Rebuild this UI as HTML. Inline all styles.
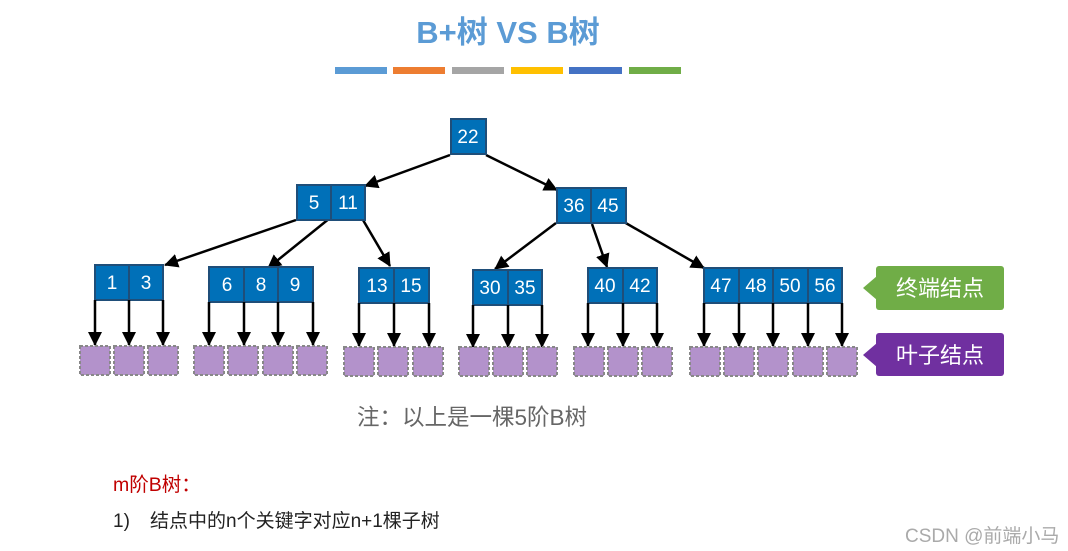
<!DOCTYPE html>
<html><head><meta charset="utf-8"><style>
html,body{margin:0;padding:0;background:#fff;}
body{width:1068px;height:551px;overflow:hidden;position:relative;font-family:"Liberation Sans","Noto Sans CJK SC",sans-serif;}
</style></head><body>
<svg width="1068" height="551" viewBox="0 0 1068 551" xmlns="http://www.w3.org/2000/svg" style="position:absolute;left:0;top:0">
<defs><marker id="b" markerWidth="14" markerHeight="14" refX="13" refY="7" orient="auto" markerUnits="userSpaceOnUse"><path d="M0,0 L14,7 L0,14 z" fill="#000"/></marker></defs>
<text x="508" y="43" text-anchor="middle" font-family="Liberation Sans,Noto Sans CJK SC,sans-serif" font-size="31" font-weight="bold" fill="#5b9bd5">B+树 VS B树</text>
<rect x="335" y="67" width="52" height="7" fill="#5b9bd5"/>
<rect x="393" y="67" width="52" height="7" fill="#ed7d31"/>
<rect x="452" y="67" width="52" height="7" fill="#a5a5a5"/>
<rect x="511" y="67" width="52" height="7" fill="#ffc000"/>
<rect x="569" y="67" width="53" height="7" fill="#4472c4"/>
<rect x="629" y="67" width="52" height="7" fill="#70ad47"/>
<g stroke="#000" stroke-width="2.5" fill="none" marker-end="url(#b)">
<line x1="450" y1="155" x2="365" y2="186"/>
<line x1="486" y1="155" x2="557" y2="190"/>
<line x1="296" y1="220" x2="165" y2="265"/>
<line x1="330" y1="218" x2="268" y2="268"/>
<line x1="363" y1="220" x2="390" y2="266"/>
<line x1="556" y1="223" x2="495" y2="269"/>
<line x1="592" y1="224" x2="607" y2="267"/>
<line x1="624" y1="222" x2="704" y2="268"/>
</g>
<g font-family="Liberation Sans,sans-serif" font-size="19">
<g stroke="#1f4e79" stroke-width="2" fill="#0070b8">
<rect x="451" y="119" width="35" height="35"/>
<rect x="297" y="185" width="34" height="35"/><rect x="331" y="185" width="34" height="35"/>
<rect x="557" y="188" width="34" height="35"/><rect x="591" y="188" width="35" height="35"/>
<rect x="95" y="265" width="34" height="35"/><rect x="129" y="265" width="34" height="35"/>
<rect x="209" y="267" width="35" height="35"/><rect x="244" y="267" width="34" height="35"/><rect x="278" y="267" width="35" height="35"/>
<rect x="359" y="268" width="35" height="35"/><rect x="394" y="268" width="35" height="35"/>
<rect x="473" y="270" width="35" height="35"/><rect x="508" y="270" width="34" height="35"/>
<rect x="588" y="268" width="35" height="35"/><rect x="623" y="268" width="34" height="35"/>
<rect x="704" y="268" width="35" height="35"/><rect x="739" y="268" width="34" height="35"/><rect x="773" y="268" width="35" height="35"/><rect x="808" y="268" width="34" height="35"/>
</g>
<g fill="#fff" text-anchor="middle">
<text x="468" y="143">22</text>
<text x="314" y="209">5</text><text x="348" y="209">11</text>
<text x="574" y="212">36</text><text x="608" y="212">45</text>
<text x="112" y="289">1</text><text x="146" y="289">3</text>
<text x="227" y="291">6</text><text x="261" y="291">8</text><text x="295" y="291">9</text>
<text x="377" y="292">13</text><text x="411" y="292">15</text>
<text x="490" y="294">30</text><text x="525" y="294">35</text>
<text x="605" y="292">40</text><text x="640" y="292">42</text>
<text x="721" y="292">47</text><text x="756" y="292">48</text><text x="790" y="292">50</text><text x="825" y="292">56</text>
</g>
<g stroke="#000" stroke-width="2.5" marker-end="url(#b)">
<line x1="95" y1="300" x2="95" y2="345"/><line x1="129" y1="300" x2="129" y2="345"/><line x1="163" y1="300" x2="163" y2="345"/>
<line x1="209" y1="302" x2="209" y2="345"/><line x1="244" y1="302" x2="244" y2="345"/><line x1="278" y1="302" x2="278" y2="345"/><line x1="313" y1="302" x2="313" y2="345"/>
<line x1="359" y1="303" x2="359" y2="346"/><line x1="394" y1="303" x2="394" y2="346"/><line x1="429" y1="303" x2="429" y2="346"/>
<line x1="473" y1="305" x2="473" y2="347"/><line x1="508" y1="305" x2="508" y2="347"/><line x1="542" y1="305" x2="542" y2="347"/>
<line x1="588" y1="303" x2="588" y2="346"/><line x1="623" y1="303" x2="623" y2="346"/><line x1="657" y1="303" x2="657" y2="346"/>
<line x1="704" y1="303" x2="704" y2="346"/><line x1="739" y1="303" x2="739" y2="346"/><line x1="773" y1="303" x2="773" y2="346"/><line x1="808" y1="303" x2="808" y2="346"/><line x1="842" y1="303" x2="842" y2="346"/>
</g>
<g fill="#b392cb" stroke="#888" stroke-width="2" stroke-dasharray="3,2">
<rect x="80" y="346" width="30" height="29"/><rect x="114" y="346" width="30" height="29"/><rect x="148" y="346" width="30" height="29"/>
<rect x="194" y="346" width="30" height="29"/><rect x="228" y="346" width="30" height="29"/><rect x="263" y="346" width="30" height="29"/><rect x="297" y="346" width="30" height="29"/>
<rect x="344" y="347" width="30" height="29"/><rect x="378" y="347" width="30" height="29"/><rect x="413" y="347" width="30" height="29"/>
<rect x="459" y="347" width="30" height="29"/><rect x="493" y="347" width="30" height="29"/><rect x="527" y="347" width="30" height="29"/>
<rect x="574" y="347" width="30" height="29"/><rect x="608" y="347" width="30" height="29"/><rect x="642" y="347" width="30" height="29"/>
<rect x="690" y="347" width="30" height="29"/><rect x="724" y="347" width="30" height="29"/><rect x="758" y="347" width="30" height="29"/><rect x="793" y="347" width="30" height="29"/><rect x="827" y="347" width="30" height="29"/>
</g>
<rect x="876" y="266" width="128" height="44" rx="3" fill="#70ad47"/>
<path d="M877,276 L863,288 L877,300 z" fill="#70ad47"/>
<text x="940" y="296" text-anchor="middle" fill="#fff" font-family="Noto Sans CJK SC,sans-serif" font-size="22">终端结点</text>
<rect x="876" y="333" width="128" height="43" rx="3" fill="#7030a0"/>
<path d="M877,343 L863,355 L877,367 z" fill="#7030a0"/>
<text x="940" y="363" text-anchor="middle" fill="#fff" font-family="Noto Sans CJK SC,sans-serif" font-size="22">叶子结点</text>
<text x="357" y="425" fill="#666" font-family="Liberation Sans,Noto Sans CJK SC,sans-serif" font-size="22.5">注：以上是一棵5阶B树</text>
<text x="113" y="491" fill="#c00000" font-family="Liberation Sans,Noto Sans CJK SC,sans-serif" font-size="19.5">m阶B树：</text>
<text x="113" y="527" fill="#222" font-family="Liberation Sans,Noto Sans CJK SC,sans-serif" font-size="19">1)</text>
<text x="150" y="527" fill="#222" font-family="Liberation Sans,Noto Sans CJK SC,sans-serif" font-size="19">结点中的n个关键字对应n+1棵子树</text>
<text x="905" y="542" fill="#aaa" font-family="Liberation Sans,Noto Sans CJK SC,sans-serif" font-size="19">CSDN @前端小马</text>
</g>
</svg>
</body></html>
